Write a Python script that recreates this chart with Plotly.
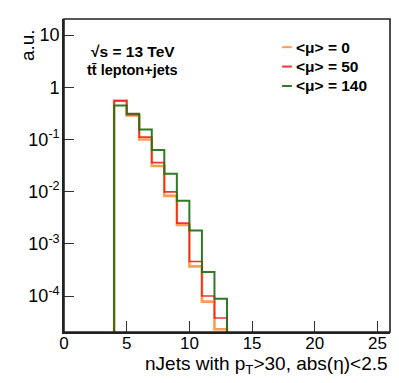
import plotly.graph_objects as go

# bin contents, nJets bins of width 1 starting at 4
bin_low = [4, 5, 6, 7, 8, 9, 10, 11, 12]
mu0 = [0.56, 0.29, 0.10, 0.031, 0.0083, 0.0023, 3.7e-4, 7.8e-5, 2.3e-5]
mu50 = [0.55, 0.30, 0.111, 0.036, 0.0099, 0.0025, 4.6e-4, 1.0e-4, 3.8e-5]
mu140 = [0.45, 0.31, 0.156, 0.063, 0.022, 0.0067, 0.0018, 2.9e-4, 8.9e-5]

y_ticks = [1e-4, 1e-3, 1e-2, 1e-1, 1, 10]
y_tick_text = ["10<sup>-4</sup>", "10<sup>-3</sup>", "10<sup>-2</sup>",
               "10<sup>-1</sup>", "1", "10"]
minor_y = [m * 10 ** e for e in range(-5, 2) for m in range(2, 10)]

FLOOR = 1e-9  # empty bins sit below the visible range
X_RANGE = [0, 26]
Y_RANGE = [-4.69, 1.31]


def step(lows, vals):
    xs = [lows[0]] + list(lows) + [lows[-1] + 1, lows[-1] + 1]
    ys = [FLOOR] + list(vals) + [vals[-1], FLOOR]
    return xs, ys


series = [
    ("<μ> = 0", mu0, "rgba(255,140,50,0.85)", 2.6),
    ("<μ> = 50", mu50, "rgba(240,30,30,0.9)", 1.6),
    ("<μ> = 140", mu140, "rgba(35,115,25,0.95)", 2.0),
]

fig = go.Figure()
for name, vals, col, w in series:
    xs, ys = step(bin_low, vals)
    fig.add_trace(go.Scatter(x=xs, y=ys, mode="lines", line_shape="hv",
                             name=name, line=dict(color=col, width=w),
                             showlegend=False))

TICK = dict(showgrid=False, zeroline=False, ticks="inside", tickcolor="#333", tickwidth=1.4)
BARE = dict(TICK, showline=False, showticklabels=False)

fig.update_layout(
    width=399, height=383,
    paper_bgcolor="white", plot_bgcolor="white",
    font=dict(family="Liberation Sans, Arial, sans-serif", color="black", size=17),
    margin=dict(l=64, r=9, t=19, b=51),
    xaxis=dict(TICK, range=X_RANGE, showline=True, linecolor="#222", linewidth=1.6,
               ticklen=11, tick0=0, dtick=5, ticklabelstandoff=-5),
    xaxis2=dict(BARE, overlaying="x", range=X_RANGE, side="bottom", tick0=0, dtick=1, ticklen=5),
    xaxis3=dict(BARE, overlaying="x", range=X_RANGE, side="top", tick0=0, dtick=5, ticklen=11),
    xaxis4=dict(BARE, overlaying="x", range=X_RANGE, side="top", tick0=0, dtick=1, ticklen=5),
    yaxis=dict(TICK, type="log", range=Y_RANGE, showline=True, linecolor="#222", linewidth=1.6,
               ticklen=10, tickmode="array", tickvals=y_ticks, ticktext=y_tick_text,
               tickfont=dict(size=18), ticklabelstandoff=-1),
    yaxis2=dict(BARE, overlaying="y", type="log", range=Y_RANGE, side="left",
                tickmode="array", tickvals=minor_y, ticklen=5),
    yaxis3=dict(BARE, overlaying="y", type="log", range=Y_RANGE, side="right",
                tickmode="array", tickvals=y_ticks, ticklen=10),
    yaxis4=dict(BARE, overlaying="y", type="log", range=Y_RANGE, side="right",
                tickmode="array", tickvals=minor_y, ticklen=5),
)

# frame
fig.add_shape(type="rect", xref="paper", yref="paper", x0=0, x1=1, y0=0, y1=1,
              line=dict(color="#222", width=1.6), layer="above")

# axis titles
fig.add_annotation(text="nJets with p<sub>T</sub>>30, abs(η)<2.5", xref="paper", yref="paper",
                   x=1.0, y=-0.062, xanchor="right", yanchor="top", showarrow=False,
                   font=dict(size=19))
fig.add_annotation(text="a.u.", xref="paper", yref="paper", x=-0.11, y=0.917,
                   xanchor="center", yanchor="middle", textangle=-90, showarrow=False,
                   font=dict(size=19))

# labels
fig.add_annotation(text="<b>√s = 13 TeV</b>", xref="paper", yref="paper",
                   x=0.077, y=0.895, xanchor="left", yanchor="middle", showarrow=False,
                   font=dict(size=15.5))
fig.add_annotation(text="<b>tt\u0304 lepton+jets</b>", xref="paper", yref="paper",
                   x=0.064, y=0.837, xanchor="left", yanchor="middle", showarrow=False,
                   font=dict(size=14.5))

# legend
for i, (name, vals, col, w) in enumerate(series):
    yy = 0.91 - i * 0.062
    fig.add_shape(type="line", xref="paper", yref="paper", x0=0.669, x1=0.699,
                  y0=yy, y1=yy, line=dict(color=col, width=2))
    fig.add_annotation(text="<b>" + name.replace("<", "&lt;").replace(">", "&gt;") + "</b>",
                       xref="paper", yref="paper", x=0.705, y=yy,
                       xanchor="left", yanchor="middle", showarrow=False,
                       font=dict(size=15.5))

fig.write_html("out.html", config={"displayModeBar": False},
               post_script="document.body.style.margin='0px';")
